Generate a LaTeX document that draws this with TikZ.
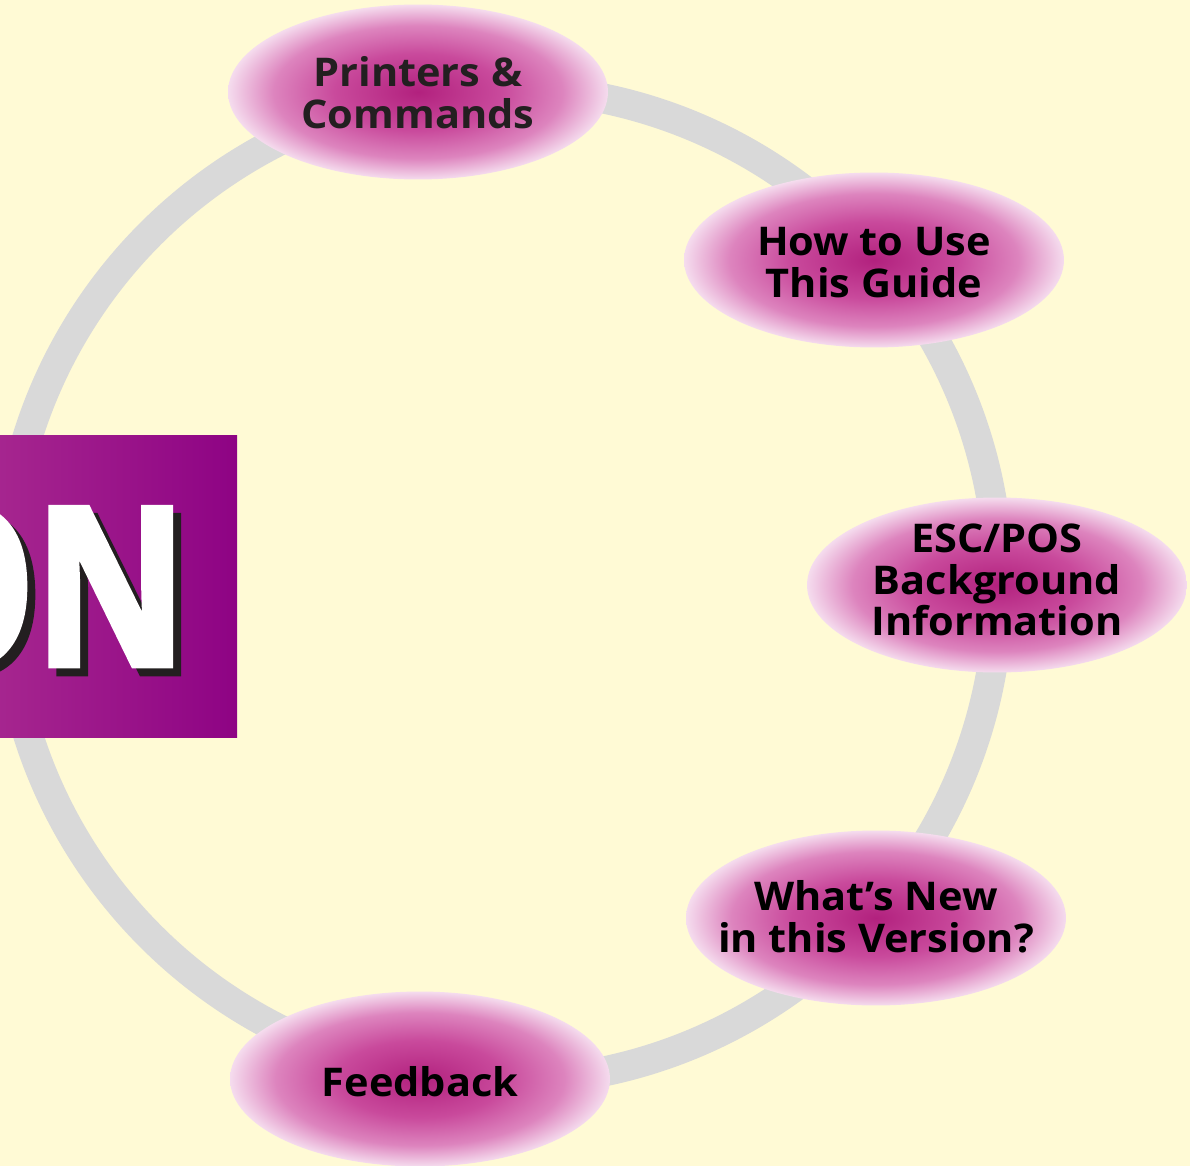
\documentclass[tikz,border=0pt]{standalone}
\usepackage{fontspec}
\setsansfont{Open Sans}[BoldFeatures={FakeStretch=1.05}]
\newfontfamily\onfont{Open Sans}[BoldFeatures={FakeBold=3,FakeStretch=0.85}]
\usetikzlibrary{shapes.geometric}
\definecolor{bg}{HTML}{FFFAD5}
\definecolor{ringgray}{HTML}{D9D9D9}
\definecolor{magc}{HTML}{B2217E}
\definecolor{magb}{HTML}{C94A9C}
\definecolor{magm}{HTML}{DD84BE}
\definecolor{pedge}{HTML}{F5DCEE}
\definecolor{boxl}{HTML}{A6268F}
\definecolor{boxr}{HTML}{8E0384}
\definecolor{shadowc}{HTML}{231F20}
\pgfdeclareradialshading{pinkball}{\pgfpoint{0bp}{0bp}}{color(0bp)=(magc); color(11bp)=(magb); color(19bp)=(magm); color(25bp)=(pedge); color(50bp)=(pedge)}
\tikzset{
  ringline/.style={draw=ringgray, line width=0.6cm},
  bubble/.style={ellipse, shading=pinkball, minimum width=7.6cm, minimum height=3.5cm, inner sep=0pt},
  bubbletext/.style={inner sep=0pt, align=center, font=\sffamily\bfseries\fontsize{22.5}{23.8}\selectfont, text=black},
  onstyle/.style={inner sep=0pt, font=\onfont\bfseries\fontsize{125}{125}\selectfont}
}
\begin{document}
\begin{tikzpicture}[x=0.02cm,y=-0.02cm]
\clip (0,0) rectangle (1190,1166);
\fill[bg] (0,0) rectangle (1190,1166);
\draw[ringline] (502,585) circle [radius=9.94cm];
\shade[left color=boxl, right color=boxr] (-5,435) rectangle (237,737);
\node[onstyle, text=shadowc, anchor=base east] (onshadow) at (195,673) {ON};
\node[onstyle, text=white, anchor=base east] (ontext) at (187,665) {ON};
\node[bubble] (printers) at (418,92) {};
\node[bubble] (howto) at (874,260) {};
\node[bubble] (escpos) at (997,585) {};
\node[bubble] (whatsnew) at (876,918) {};
\node[bubble] (feedback) at (420,1079) {};
\node[bubbletext, text=shadowc] (printers-t) at ([yshift=-0.01cm]printers.center) {Printers \&\\Commands};
\node[bubbletext] (howto-t) at ([yshift=-0.05cm]howto.center) {How to Use\\This Guide};
\node[bubbletext] (escpos-t) at ([yshift=0.1cm]escpos.center) {ESC/POS\\Background\\Information};
\node[bubbletext] (whatsnew-t) at ([yshift=0.02cm]whatsnew.center) {What’s New\\in this Version?};
\node[bubbletext] (feedback-t) at ([yshift=-0.06cm]feedback.center) {Feedback};
\end{tikzpicture}
\end{document}
